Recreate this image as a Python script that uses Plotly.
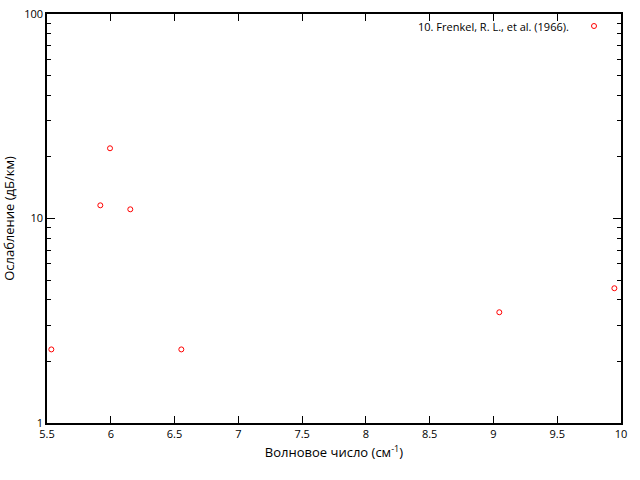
import plotly.graph_objects as go

wavenumber = [5.534, 5.918, 5.994, 6.153, 6.553, 9.046, 9.948]
attenuation = [2.29, 11.6, 22.05, 11.09, 2.29, 3.48, 4.56]
legend_label = "10. Frenkel, R. L., et al. (1966)."
x_title = "Волновое число (см<sup>-1</sup>)"
y_title = "Ослабление (дБ/км)"
x_ticks = [5.5, 6, 6.5, 7, 7.5, 8, 8.5, 9, 9.5, 10]
x_ticktext = ["5.5", "6", "6.5", "7", "7.5", "8", "8.5", "9", "9.5", "10"]
y_ticks = [1, 10, 100]
y_ticktext = ["1", "10", "100"]
y_minor = [2, 3, 4, 5, 6, 7, 8, 9, 20, 30, 40, 50, 60, 70, 80, 90]

FONT = "Open Sans"

fig = go.Figure()
fig.add_trace(go.Scatter(
    x=wavenumber, y=attenuation, mode="markers",
    marker=dict(symbol="circle-open", size=5, color="#ff0000", line=dict(width=1)),
    name=legend_label, showlegend=False, cliponaxis=False,
))

fig.update_layout(
    width=640, height=480,
    margin=dict(l=47, r=19, t=14, b=57, autoexpand=False),
    paper_bgcolor="white", plot_bgcolor="white",
    font=dict(family=FONT, size=11, color="black"),
    xaxis=dict(
        range=[5.5, 10], tickmode="array", tickvals=x_ticks, ticktext=x_ticktext, automargin=False,
        ticks="inside", ticklen=7, tickwidth=1.2, tickcolor="black",
        showline=True, linecolor="black", linewidth=1.5, mirror="ticks",
        showgrid=False, zeroline=False, showticklabels=True,
        title=dict(text=x_title, font=dict(size=13, family=FONT), standoff=8),
        tickfont=dict(size=11, family=FONT),
    ),
    yaxis=dict(
        type="log", range=[0, 2], automargin=False,
        tickmode="array", tickvals=y_ticks, ticktext=y_ticktext,
        ticks="inside", ticklen=8, tickwidth=1.2, tickcolor="black",
        minor=dict(ticks="inside", ticklen=4, tickwidth=1.2, tickcolor="black",
                   tickmode="array", tickvals=y_minor, showgrid=False),
        showline=True, linecolor="black", linewidth=1.5, mirror="ticks",
        showgrid=False, zeroline=False, showticklabels=True,
        title=dict(text=y_title, font=dict(size=13, family=FONT), standoff=10),
        tickfont=dict(size=11, family=FONT),
    ),
    annotations=[dict(
        text=legend_label, xref="paper", yref="paper",
        x=(571 - 47) / 574, y=(423 - 26) / 409,
        xanchor="right", yanchor="middle", showarrow=False,
        font=dict(size=11, family=FONT),
    )],
    shapes=[dict(
        type="circle", xref="paper", yref="paper",
        xsizemode="pixel", ysizemode="pixel",
        xanchor=(594 - 47) / 574, yanchor=(423 - 26) / 409,
        x0=-2.5, x1=2.5, y0=-2.5, y1=2.5,
        line=dict(color="#ff0000", width=1),
    )],
)

fig.write_html("out.html", config={"displayModeBar": False},
               post_script="document.body.style.margin='0';")
